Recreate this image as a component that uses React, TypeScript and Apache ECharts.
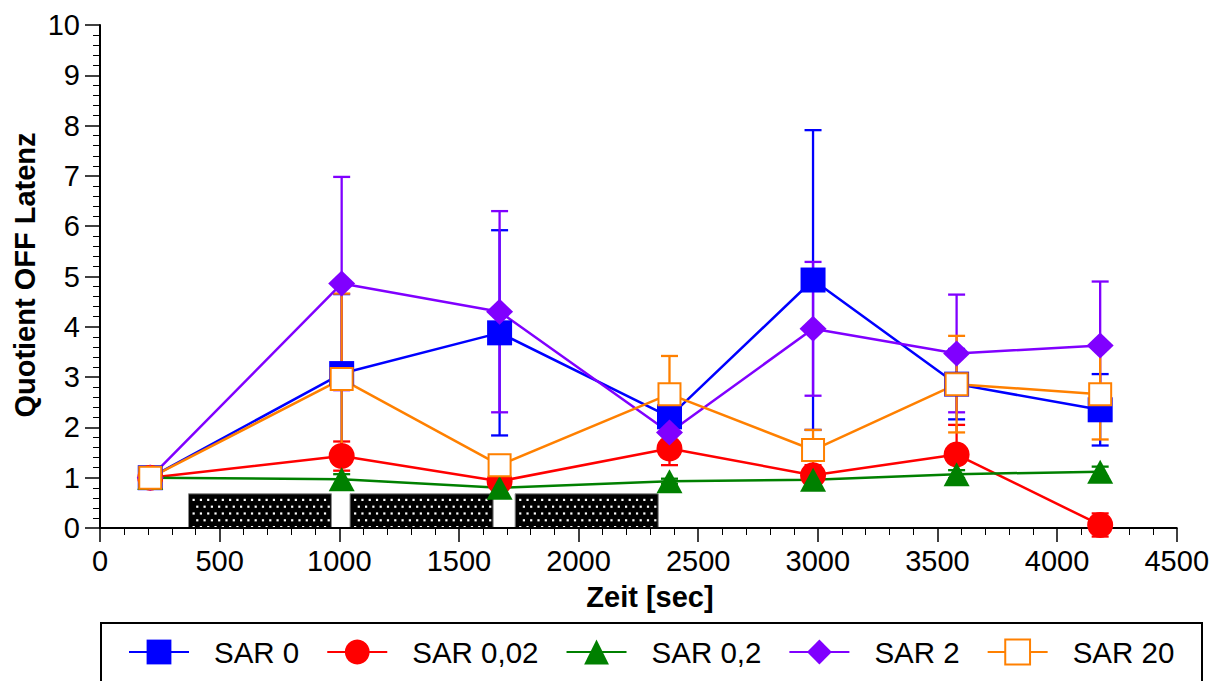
import React, { useEffect, useRef } from 'react';
import * as echarts from 'echarts';

// ---------- data ----------
const timePoints = [210, 1010, 1670, 2380, 2980, 3580, 4180];

const sar0 = [1, 3.07, 3.88, 2.21, 4.93, 2.86, 2.35];
const sar0Err = [0, 1.58, 2.04, 0.35, 2.98, 0.7, 0.71];

const sar002 = [1, 1.43, 0.93, 1.58, 1.05, 1.46, 0.06];
const sar002Err = [0, 0.29, 0.15, 0.33, 0.2, 0.59, 0.23];

const sar02 = [1, 0.97, 0.8, 0.93, 0.96, 1.07, 1.12];
const sar02Err = [0, 0.1, 0.05, 0.05, 0.05, 0.08, 0.1];

const sar2 = [1, 4.86, 4.3, 1.9, 3.96, 3.47, 3.63];
const sar2Err = [0, 2.12, 2.0, 0.3, 1.33, 1.17, 1.27];

const sar20 = [1, 2.96, 1.25, 2.66, 1.55, 2.86, 2.66];
const sar20Err = [0, 1.7, 0.2, 0.76, 0.4, 0.96, 0.9];

const stimulusStart = [370, 1045, 1735];
const stimulusEnd = [967, 1643, 2333];
const stimulusHeight = 0.68;

const xTitle = 'Zeit [sec]';
const yTitle = 'Quotient OFF Latenz';

const FONT = '"Liberation Sans", Arial, Helvetica, sans-serif';

type SeriesDef = {
  name: string;
  values: number[];
  errors: number[];
  color: string;
  symbol: string;
  symbolSize: number | number[];
  hollow?: boolean;
};

const seriesDefs: SeriesDef[] = [
  { name: 'SAR 0', values: sar0, errors: sar0Err, color: '#0000FF', symbol: 'rect', symbolSize: 25 },
  { name: 'SAR 0,02', values: sar002, errors: sar002Err, color: '#FF0000', symbol: 'circle', symbolSize: 26 },
  { name: 'SAR 0,2', values: sar02, errors: sar02Err, color: '#008000', symbol: 'triangle', symbolSize: [26, 24] },
  { name: 'SAR 2', values: sar2, errors: sar2Err, color: '#8000FF', symbol: 'diamond', symbolSize: [27, 26] },
  { name: 'SAR 20', values: sar20, errors: sar20Err, color: '#FF8000', symbol: 'rect', symbolSize: 22, hollow: true },
];

const makeErrRender = (color: string) => (params: any, api: any) => {
  const x = api.value(0);
  const top = api.coord([x, api.value(2)]);
  const bot = api.coord([x, api.value(1)]);
  const hw = 8.5;
  const style = { stroke: color, lineWidth: 2.3 };
  return {
    type: 'group',
    children: [
      { type: 'line', shape: { x1: top[0], y1: top[1], x2: bot[0], y2: bot[1] }, style },
      { type: 'line', shape: { x1: top[0] - hw, y1: top[1], x2: top[0] + hw, y2: top[1] }, style },
      { type: 'line', shape: { x1: bot[0] - hw, y1: bot[1], x2: bot[0] + hw, y2: bot[1] }, style },
    ],
  };
};

const renderStimulus = (params: any, api: any) => {
  const p0 = api.coord([api.value(0), api.value(2)]);
  const p1 = api.coord([api.value(1), 0]);
  const x = p0[0];
  const y = p0[1];
  const w = p1[0] - p0[0];
  const h = p1[1] - p0[1];
  const children: any[] = [
    { type: 'rect', shape: { x, y, width: w, height: h }, style: { fill: '#000', stroke: '#8a8a8a', lineWidth: 1 } },
  ];
  const dx = 7.3;
  const dy = 6.8;
  let row = 0;
  for (let yy = y + 5; yy < y + h - 2; yy += dy, row++) {
    for (let xx = x + 4 + (row % 2) * (dx / 2); xx < x + w - 3; xx += dx) {
      children.push({ type: 'rect', shape: { x: xx, y: yy, width: 2.2, height: 2.2 }, style: { fill: '#fff' } });
    }
  }
  return { type: 'group', children };
};

export default function App() {
  const ref = useRef<HTMLDivElement>(null);

  useEffect(() => {
    if (!ref.current) return;
    const chart = echarts.init(ref.current, undefined, { renderer: 'svg' });

    const series: any[] = [];

    series.push({
      type: 'custom',
      name: 'stimulus',
      renderItem: renderStimulus,
      data: stimulusStart.map((s, i) => [s, stimulusEnd[i], stimulusHeight]),
      encode: { x: [0, 1], y: 2 },
      z: 0,
      silent: true,
    });

    seriesDefs.forEach((d) => {
      series.push({
        type: 'custom',
        name: d.name + ' err',
        renderItem: makeErrRender(d.color),
        data: timePoints
          .map((t, i) => [t, d.values[i] - d.errors[i], d.values[i] + d.errors[i], d.errors[i]])
          .filter((r) => r[3] > 0),
        encode: { x: 0, y: [1, 2] },
        z: 1,
        silent: true,
        clip: false,
      });
    });

    seriesDefs.forEach((d) => {
      series.push({
        type: 'line',
        name: d.name,
        data: timePoints.map((t, i) => [t, d.values[i]]),
        symbol: d.symbol,
        symbolSize: d.symbolSize,
        showAllSymbol: true,
        clip: false,
        z: 2,
        lineStyle: { color: d.color, width: 2.5 },
        itemStyle: d.hollow
          ? { color: '#FFFFFF', borderColor: d.color, borderWidth: 2, opacity: 1 }
          : { color: d.color, borderWidth: 0, opacity: 1 },
        emphasis: { disabled: true },
      });
    });

    chart.setOption({
      animation: false,
      backgroundColor: '#FFFFFF',
      textStyle: { fontFamily: FONT },
      grid: { left: 100, right: 34, top: 25, bottom: 153, containLabel: false },
      xAxis: {
        type: 'value',
        min: 0,
        max: 4500,
        interval: 500,
        splitLine: { show: false },
        axisLine: { lineStyle: { color: '#000', width: 2 } },
        axisTick: { length: 14, lineStyle: { color: '#000', width: 1.5 } },
        minorTick: { show: true, splitNumber: 5, length: 7, lineStyle: { color: '#000', width: 1 } },
        axisLabel: {
          fontSize: 29,
          color: '#000',
          margin: 18,
          fontFamily: FONT,
          formatter: (v: number) => String(v),
        },
      },
      yAxis: {
        type: 'value',
        min: 0,
        max: 10,
        interval: 1,
        splitLine: { show: false },
        axisLine: { show: true, lineStyle: { color: '#000', width: 2 } },
        axisTick: { show: true, length: 15, lineStyle: { color: '#000', width: 1.5 } },
        minorTick: { show: true, splitNumber: 5, length: 7, lineStyle: { color: '#000', width: 1 } },
        axisLabel: { fontSize: 29, color: '#000', margin: 20, fontFamily: FONT, formatter: (v: number) => String(v) },
      },
      legend: {
        data: seriesDefs.map((d) => d.name),
        left: 128,
        top: 637,
        padding: 0,
        itemWidth: 60,
        itemHeight: 31,
        itemGap: 27,
        selectedMode: false,
        textStyle: { fontSize: 29.5, color: '#000', fontFamily: FONT, padding: [0, 0, 0, 20] },
      },
      graphic: [
        {
          type: 'rect',
          shape: { x: 101, y: 623, width: 1101, height: 120 },
          style: { fill: 'none', stroke: '#000', lineWidth: 2 },
          z: 100,
        },
        {
          type: 'text',
          x: 650,
          y: 597,
          style: { text: xTitle, fontSize: 29, fontWeight: 'bold', fontFamily: FONT, fill: '#000', align: 'center', verticalAlign: 'middle' },
        },
        {
          type: 'text',
          x: 25,
          y: 275,
          rotation: Math.PI / 2,
          style: { text: yTitle, fontSize: 29, fontWeight: 'bold', fontFamily: FONT, fill: '#000', align: 'center', verticalAlign: 'middle' },
        },
      ],
      series,
    });

    return () => chart.dispose();
  }, []);

  return (
    <div
      ref={ref}
      style={{ position: 'absolute', left: 0, top: 0, width: 1212, height: 681, background: '#fff' }}
    />
  );
}
